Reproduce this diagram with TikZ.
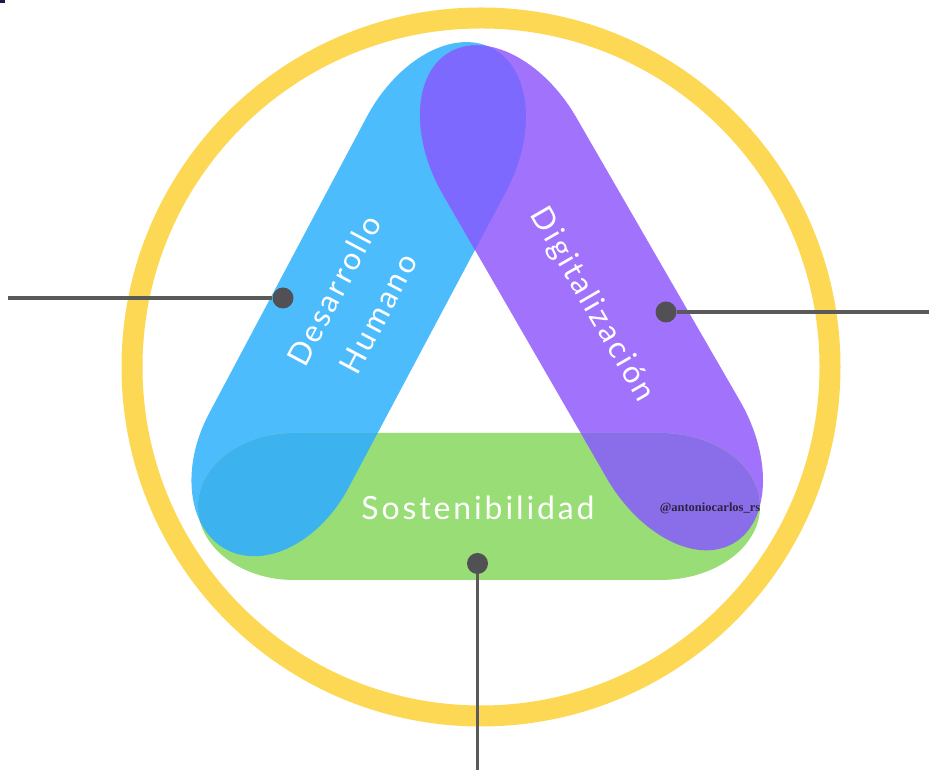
\documentclass[tikz,border=0pt]{standalone}
\usepackage{fontspec}
\newfontfamily\labelfont{Lato}[LetterSpace=9]
\newfontfamily\markfont{Liberation Serif}
\definecolor{bluec}{HTML}{4DBCFC}
\definecolor{purplec}{HTML}{A173FC}
\definecolor{greenc}{HTML}{98DD76}
\definecolor{lensc}{HTML}{7E69FE}
\definecolor{bgc}{HTML}{3CB3EF}
\definecolor{pgc}{HTML}{8A6DE8}
\definecolor{ringc}{HTML}{FDD854}
\definecolor{dotgray}{HTML}{505055}
\definecolor{linegray}{HTML}{5A5A5A}
\definecolor{markc}{HTML}{2B2440}
\definecolor{navyc}{HTML}{1A1A4A}
\newcommand\bandp[4]{(0,#1) -- (#2,#1) arc[start angle=90,end angle=-90,x radius=#4,y radius=#1] -- (0,-#1) arc[start angle=270,end angle=90,x radius=#3,y radius=#1] -- cycle}
\begin{document}
\begin{tikzpicture}[x=1pt,y=1pt]
\tikzset{
 bluetf/.style={shift={(278.8,319.4)},rotate=62},
 purpletf/.style={shift={(509.7,613.9)},rotate=-60},
 greentf/.style={shift={(294,263.5)}},
 pindot/.style={circle,fill=dotgray,inner sep=0pt,minimum size=21pt},
 leader/.style={draw=linegray,line width=3.5pt},
 lbl/.style={text=white,font=\labelfont\fontsize{31}{50}\selectfont,align=center}
}
\useasboundingbox (0,0) rectangle (929,770);
\fill[navyc] (0,767) rectangle (5,770);
% yellow ring
\draw[ringc,line width=21pt] (481,403) circle[radius=349];
% bands
\fill[bluec,bluetf] \bandp{79}{335.5}{112}{120};
\fill[purplec,purpletf] \bandp{77}{327.2}{120}{120};
\fill[greenc,greentf] \bandp{73.5}{366}{96}{100};
% overlaps
\begin{scope}
 \clip[bluetf] \bandp{79}{335.5}{112}{120};
 \fill[lensc,purpletf] \bandp{77}{327.2}{120}{120};
\end{scope}
\begin{scope}
 \clip[bluetf] \bandp{79}{335.5}{112}{120};
 \fill[bgc,greentf] \bandp{73.5}{366}{96}{100};
\end{scope}
\begin{scope}
 \clip[purpletf] \bandp{77}{327.2}{120}{120};
 \fill[pgc,greentf] \bandp{73.5}{366}{96}{100};
\end{scope}
% labels
\node[lbl,rotate=62] (dh) at (356,468) {Desarrollo\\Humano};
\node[lbl,rotate=-60] (dg) at (592,465) {Digitalización};
\node[lbl,font=\labelfont\fontsize{32}{40}\selectfont] (so) at (478,262) {Sostenibilidad};
\node[text=markc,font=\markfont\bfseries\fontsize{12.5}{14}\selectfont] (wm) at (710,262) {@antoniocarlos\_rs};
% pins and leaders
\node[pindot] (d1) at (283,472) {};
\coordinate (e1) at (8,472);
\node[pindot] (d2) at (666,458) {};
\coordinate (e2) at (929,458);
\node[pindot] (d3) at (477.5,206.5) {};
\coordinate (e3) at (477.5,0);
\draw[leader] (e1) -- (d1);
\draw[leader] (d2) -- (e2);
\draw[leader] (d3) -- (e3);
\end{tikzpicture}
\end{document}
